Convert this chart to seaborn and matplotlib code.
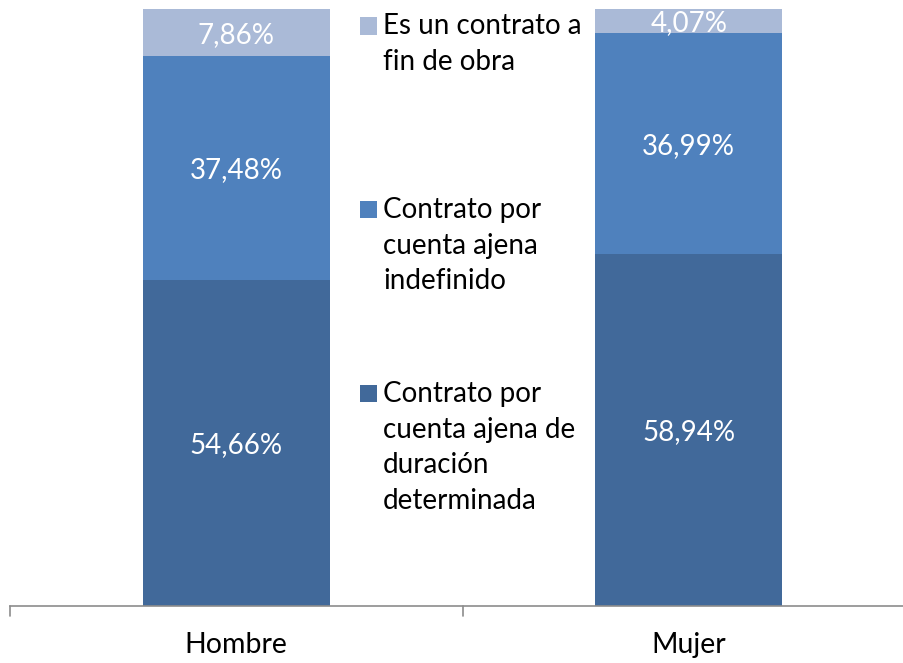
import matplotlib
matplotlib.use("Agg")
import matplotlib.pyplot as plt
import seaborn as sns
import pandas as pd
from matplotlib.patches import Rectangle

categories = ["Hombre", "Mujer"]
determinada = [54.66, 58.94]
indefinido = [37.48, 36.99]
fin_obra = [7.86, 4.07]

colors = ["#41699A", "#4F81BD", "#AABAD7"]

sns.set_theme(style="white")
plt.rcParams["font.family"] = ["Lato", "DejaVu Sans"]

W, H = 904, 663
fig = plt.figure(figsize=(W / 100, H / 100), dpi=100)
ax = fig.add_axes([10 / W, (H - 606) / H, 905 / W, (606 - 9) / H])

layers = [determinada, indefinido, fin_obra]
cum = []
running = [0.0, 0.0]
for vals in layers:
    running = [r + v for r, v in zip(running, vals)]
    cum.append(list(running))

for i in reversed(range(3)):
    df = pd.DataFrame({"cat": categories, "val": cum[i]})
    sns.barplot(data=df, x="cat", y="val", color=colors[i], saturation=1,
                width=0.413, ax=ax, edgecolor="none", linewidth=0)

ax.set_xlim(-0.5, 1.5)
ax.set_ylim(0, 100)
ax.set_xlabel("")
ax.set_ylabel("")
ax.set_yticks([])

for i, vals in enumerate(layers):
    for j, v in enumerate(vals):
        bottom = cum[i][j] - v
        ax.text(j, bottom + v / 2 - 0.4, f"{v:.2f}%".replace(".", ","),
                ha="center", va="center", color="white", fontsize=20)

for s in ["top", "right", "left"]:
    ax.spines[s].set_visible(False)
ax.spines["bottom"].set_color("#8C8C8C")
ax.spines["bottom"].set_linewidth(1.2)

ax.set_xticks([0, 1])
ax.set_xticklabels(categories, fontsize=20.5, color="black")
ax.tick_params(axis="x", length=0, pad=19)
for xb in [-0.5, 0.5, 1.5]:
    ax.plot([xb, xb], [0, -1.7], color="#8C8C8C", lw=1.2, clip_on=False)

def px(x, y):
    return x / W, 1 - y / H

legend_items = [
    (2, "Es un contrato a\nfin de obra", 26),
    (1, "Contrato por\ncuenta ajena\nindefinido", 210),
    (0, "Contrato por\ncuenta ajena de\nduración\ndeterminada", 394),
]
for idx, label, yc in legend_items:
    x0, y0 = px(360, yc + 8.5)
    fig.patches.append(Rectangle((x0, y0), 17 / W, 17 / H, transform=fig.transFigure,
                                 facecolor=colors[idx], edgecolor="none"))
    tx, ty = px(383, yc - 13)
    fig.text(tx, ty, label, ha="left", va="top", fontsize=20,
             linespacing=1.46, color="black")

fig.savefig("out.png", dpi=100)
